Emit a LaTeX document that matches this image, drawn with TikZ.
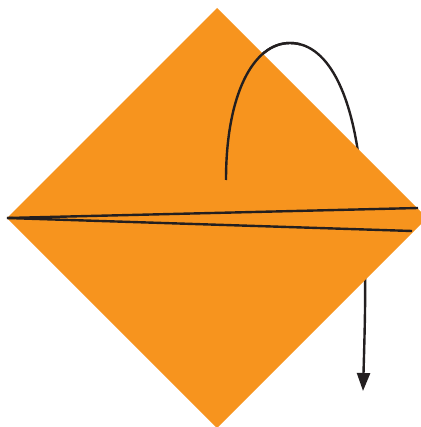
\documentclass[tikz,border=0pt]{standalone}
\usetikzlibrary{arrows.meta}
\definecolor{fold}{HTML}{F7941E}
\definecolor{ink}{HTML}{231F20}
\tikzset{inkline/.style={draw=ink,line width=2.4pt}}
\begin{document}
\begin{tikzpicture}[x=1pt,y=-1pt]
\useasboundingbox (0,0) rectangle (420,427);
\coordinate (top) at (217,8);
\coordinate (left) at (7,218);
\coordinate (bottom) at (217,428);
\coordinate (right) at (427,218);
\coordinate (s) at (226,180);
\coordinate (p) at (290,43);
\coordinate (q) at (362,190);
\coordinate (e) at (363,391);
\coordinate (u) at (418,208);
\coordinate (l) at (412,231);
% curve behind the paper
\draw[inkline,-{Triangle[length=18pt,width=13pt]}] (s) .. controls (226,95) and (253,43) .. (p)
  .. controls (330,43) and (356,100) .. (q)
  .. controls (367,260) and (365,320) .. (e);
% paper
\fill[fold] (top) -- (right) -- (bottom) -- (left) -- cycle;
% visible start of curve on paper
\begin{scope}
\clip (0,0) rectangle (300,181);
\draw[inkline] (s) .. controls (226,95) and (253,43) .. (p)
  .. controls (330,43) and (356,100) .. (q);
\end{scope}
% fold lines
\draw[inkline] (left) -- (u);
\draw[inkline] (left) -- (l);
\end{tikzpicture}
\end{document}
